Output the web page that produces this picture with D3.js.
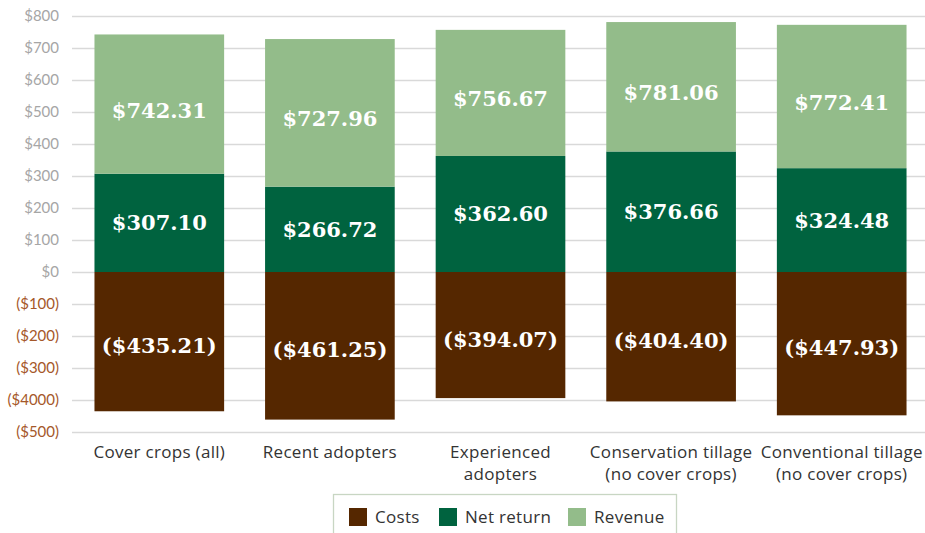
<!DOCTYPE html>
<html>
<head>
<meta charset="utf-8">
<script src="https://cdn.jsdelivr.net/npm/d3@7"></script>
<style>
  body { margin: 0; background: #fff; }
  svg { display: block; }
</style>
</head>
<body>
<script>
// Chart values
var categories = ["Cover crops (all)", "Recent adopters", "Experienced adopters",
                  "Conservation tillage (no cover crops)", "Conventional tillage (no cover crops)"];
var categoryLines = [["Cover crops (all)"], ["Recent adopters"], ["Experienced", "adopters"],
                     ["Conservation tillage", "(no cover crops)"], ["Conventional tillage", "(no cover crops)"]];
var costs = [-435.21, -461.25, -394.07, -404.40, -447.93];
var netReturn = [307.10, 266.72, 362.60, 376.66, 324.48];
var revenue = [742.31, 727.96, 756.67, 781.06, 772.41];
var tickValues = [800, 700, 600, 500, 400, 300, 200, 100, 0, -100, -200, -300, -400, -500];
var tickLabels = ["$800", "$700", "$600", "$500", "$400", "$300", "$200", "$100", "$0",
                  "($100)", "($200)", "($300)", "($4000)", "($500)"];
var seriesNames = ["Costs", "Net return", "Revenue"];
var seriesColors = ["#552700", "#00633f", "#93bc8a"];

var w = 925, h = 533;
var svg = d3.select("body").append("svg").attr("width", w).attr("height", h);
var sansFont = "'Open Sans', Lato, sans-serif";

// Scales
var y = d3.scaleLinear().domain([-500, 800]).range([432, 16]);
var x = d3.scaleBand().domain(categories).range([74, 927])
          .paddingInner(0.24).paddingOuter(0.12);

// Grid lines
svg.append("g").selectAll("line").data(tickValues).enter().append("line")
   .attr("x1", 72).attr("x2", w)
   .attr("y1", function(d) { return y(d) + 0.5; })
   .attr("y2", function(d) { return y(d) + 0.5; })
   .attr("stroke", "#d9d9d9").attr("stroke-width", 1.3);

// Y axis labels
var yAxis = d3.axisLeft(y).tickValues(tickValues).tickSize(0).tickPadding(0)
              .tickFormat(function(d, i) { return tickLabels[i]; });
var gy = svg.append("g").attr("transform", "translate(59,0)").call(yAxis);
gy.select(".domain").remove();
gy.selectAll("text")
  .style("font-family", "Lato, 'Open Sans', sans-serif").style("font-size", "15px")
  .attr("fill", function(d) { return d < 0 ? "#a5582a" : "#a6a6a6"; });

// Build segment data
var segments = [];
categories.forEach(function(c, i) {
  segments.push({cat: c, y0: costs[i], y1: 0, s: 0, label: "($" + (-costs[i]).toFixed(2) + ")"});
  segments.push({cat: c, y0: 0, y1: netReturn[i], s: 1, label: "$" + netReturn[i].toFixed(2)});
  segments.push({cat: c, y0: netReturn[i], y1: revenue[i], s: 2, label: "$" + revenue[i].toFixed(2)});
});
var labelShift = [4, 0, 6];

// Bars
svg.append("g").selectAll("rect").data(segments).enter().append("rect")
   .attr("x", function(d) { return x(d.cat); })
   .attr("width", x.bandwidth())
   .attr("y", function(d) { return y(Math.max(d.y0, d.y1)); })
   .attr("height", function(d) { return Math.abs(y(d.y0) - y(d.y1)); })
   .attr("fill", function(d) { return seriesColors[d.s]; });

// Bar labels
svg.append("g").selectAll("text").data(segments).enter().append("text")
   .attr("x", function(d) { return x(d.cat) + x.bandwidth() / 2; })
   .attr("y", function(d) { return y((d.y0 + d.y1) / 2) + labelShift[d.s]; })
   .attr("text-anchor", "middle").attr("dominant-baseline", "central")
   .attr("fill", "#fff")
   .style("font-family", "'DejaVu Serif', serif").style("font-weight", "bold")
   .style("font-size", "21px")
   .text(function(d) { return d.label; });

// Category labels
var cats = svg.append("g").selectAll("text").data(categories).enter().append("text")
   .attr("x", function(d) { return x(d) + x.bandwidth() / 2; })
   .attr("y", 458)
   .attr("text-anchor", "middle").attr("fill", "#333")
   .style("font-family", sansFont).style("font-size", "17px")
   .style("letter-spacing", "0.3px");
cats.each(function(d, i) {
  var t = d3.select(this);
  categoryLines[i].forEach(function(line, j) {
    t.append("tspan").attr("x", x(d) + x.bandwidth() / 2).attr("dy", j == 0 ? 0 : 22).text(line);
  });
});

// Legend
var legend = svg.append("g");
legend.append("rect").attr("x", 333.5).attr("y", 494.5).attr("width", 343).attr("height", 50)
      .attr("fill", "#fff").attr("stroke", "#c8d6c3").attr("stroke-width", 1.3);
var legendX = [349, 439, 568];
seriesNames.forEach(function(name, i) {
  legend.append("rect").attr("x", legendX[i]).attr("y", 508).attr("width", 18).attr("height", 18)
        .attr("fill", seriesColors[i]);
  legend.append("text").attr("x", legendX[i] + 26).attr("y", 523)
        .attr("fill", "#333")
        .style("font-family", sansFont).style("font-size", "17px")
        .style("letter-spacing", "0.3px")
        .text(name);
});
</script>
</body>
</html>
